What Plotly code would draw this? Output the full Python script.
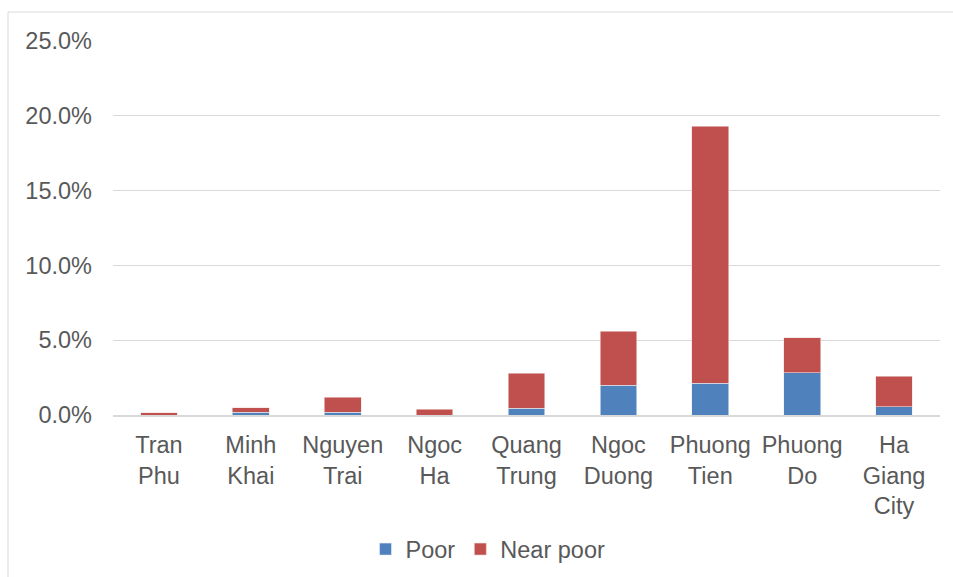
import plotly.graph_objects as go

# Communes / wards and the share of households in each poverty group (%)
communes = ["Tran<br>Phu", "Minh<br>Khai", "Nguyen<br>Trai", "Ngoc<br>Ha", "Quang<br>Trung",
            "Ngoc<br>Duong", "Phuong<br>Tien", "Phuong<br>Do", "Ha<br>Giang<br>City"]
poor = [0.0, 0.2, 0.18, 0.0, 0.45, 2.0, 2.12, 2.83, 0.56]
near_poor = [0.15, 0.27, 1.0, 0.4, 2.34, 3.6, 17.18, 2.32, 2.03]
y_ticks = [0, 5, 10, 15, 20, 25]

FONT = "Liberation Sans, Arial, sans-serif"
TEXT = "#595959"
GRID = "#D9D9D9"

W, H = 953, 577
ML, MR, MT, MB = 113, 13, 41, 161.5
plot_w = W - ML - MR
plot_h = H - MT - MB

fig = go.Figure()
fig.add_trace(go.Bar(x=communes, y=poor, name="Poor",
                     marker=dict(color="#4F81BD", line=dict(color="#E6EEF7", width=0.6))))
fig.add_trace(go.Bar(x=communes, y=near_poor, name="Near poor",
                     marker=dict(color="#C0504D", line=dict(color="#F2DCDB", width=0.6))))

# light outer frame of the chart area
fx = (8 - ML) / plot_w
fy = 1 + (MT - 12) / plot_h
fig.add_shape(type="line", xref="paper", yref="paper", x0=fx, x1=fx, y0=fy, y1=-0.6,
              line=dict(color=GRID, width=1))
fig.add_shape(type="line", xref="paper", yref="paper", x0=fx, x1=1.2, y0=fy, y1=fy,
              line=dict(color=GRID, width=1))

fig.update_layout(
    width=W, height=H,
    margin=dict(l=ML, r=MR, t=MT, b=MB, pad=0, autoexpand=False),
    barmode="stack", bargap=0.6,
    plot_bgcolor="white", paper_bgcolor="white",
    font=dict(family=FONT, size=23.5, color=TEXT),
    showlegend=True,
    legend=dict(orientation="h", x=(488 - ML) / plot_w, xanchor="center",
                y=(MT + plot_h - 550) / plot_h, yanchor="middle",
                font=dict(size=23.5, color=TEXT), traceorder="normal",
                itemwidth=30, bgcolor="rgba(0,0,0,0)"),
    xaxis=dict(showgrid=False, showline=True, linecolor=GRID, linewidth=1.5,
               ticks="", tickfont=dict(size=23.5, color=TEXT), ticklabelstandoff=8,
               automargin=False, fixedrange=True),
    yaxis=dict(range=[0, 25], tickvals=y_ticks, ticktext=[f"{v:.1f}%" for v in y_ticks],
               showgrid=True, gridcolor=GRID, gridwidth=1, zeroline=False,
               showline=False, ticks="", ticklabelstandoff=20,
               tickfont=dict(size=23.5, color=TEXT), automargin=False, fixedrange=True),
)

fig.write_html("out.html")
